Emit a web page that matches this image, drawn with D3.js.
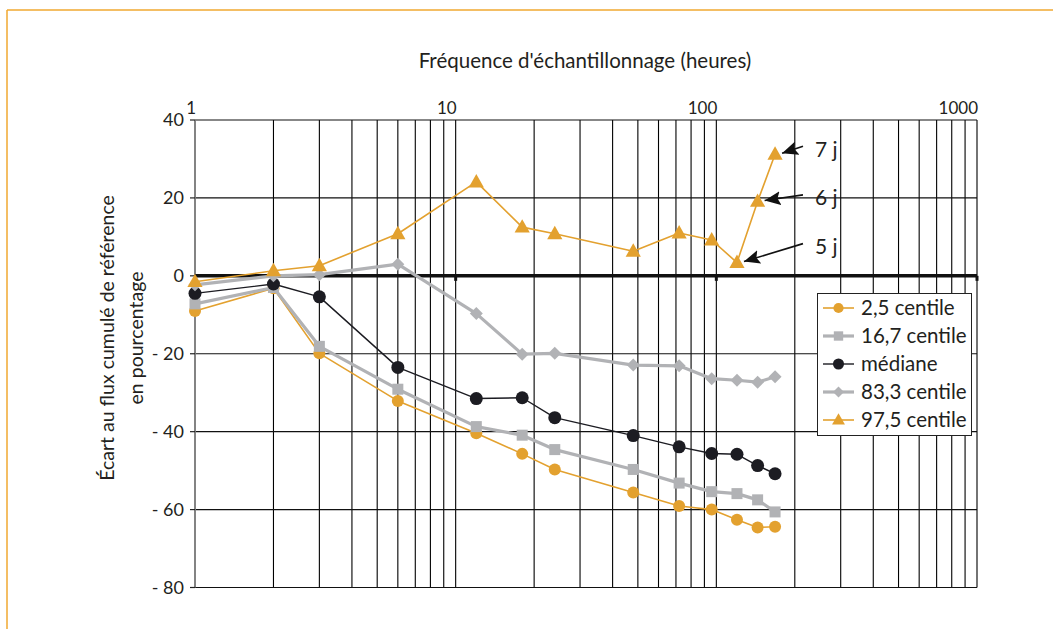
<!DOCTYPE html>
<html>
<head>
<meta charset="utf-8">
<script src="https://cdn.jsdelivr.net/npm/d3@7"></script>
<style>
  html, body { margin: 0; padding: 0; background: #fff; }
  svg { display: block; }
  text { font-family: Lato, "Open Sans", sans-serif; fill: #231f20; }
</style>
</head>
<body>
<svg id="chart" width="1053" height="629"></svg>
<script>
// ---- data ----
const hours = [1, 2, 3, 6, 12, 18, 24, 48, 72, 96, 120, 144, 168];
const c025 = [-9.0, -3.2, -19.9, -32.1, -40.4, -45.7, -49.7, -55.6, -59.1, -60.0, -62.6, -64.6, -64.4];
const c167 = [-7.2, -3.0, -18.1, -29.1, -38.7, -40.9, -44.6, -49.7, -53.2, -55.4, -55.9, -57.5, -60.6];
const median = [-4.5, -2.1, -5.4, -23.5, -31.5, -31.3, -36.4, -41.0, -43.9, -45.6, -45.8, -48.7, -50.8];
const c833 = [-2.3, 0.0, 0.3, 3.0, -9.7, -20.1, -19.9, -22.9, -23.1, -26.4, -26.8, -27.3, -25.9];
const c975 = [-1.5, 1.3, 2.6, 10.8, 24.1, 12.5, 10.8, 6.3, 11.0, 9.2, 3.4, 19.1, 31.2];
const seriesNames = ["2,5 centile", "16,7 centile", "médiane", "83,3 centile", "97,5 centile"];
const xTickLabels = [1, 10, 100, 1000];
const yTickValues = [40, 20, 0, -20, -40, -60, -80];
const annotLabels = ["5 j", "6 j", "7 j"];
const annotIndex = [10, 11, 12];
const annotLabelY = [7.5, 20, 32.5];
const xTitle = "Fréquence d'échantillonnage (heures)";
const yTitle = ["Écart au flux cumulé de référence", "en pourcentage"];

// ---- styles ----
const ORANGE = "#E3A12F", GRAY = "#B1B2B5", BLACK = "#1C1C22";
const styles = [
  {color: ORANGE, width: 1.6, marker: "circle", size: 6},
  {color: GRAY, width: 3.2, marker: "square", size: 5.5},
  {color: BLACK, width: 1.4, marker: "circle", size: 6.5},
  {color: GRAY, width: 3.2, marker: "diamond", size: 6.5},
  {color: ORANGE, width: 1.6, marker: "triangle", size: 8}
];
const seriesValues = [c025, c167, median, c833, c975];

const svg = d3.select("#chart");

// frame
svg.append("line").attr("x1", 7).attr("x2", 1053).attr("y1", 10).attr("y2", 10)
  .attr("stroke", "#F0A830").attr("stroke-width", 1.5);
svg.append("line").attr("x1", 7).attr("x2", 7).attr("y1", 10).attr("y2", 629)
  .attr("stroke", "#F0A830").attr("stroke-width", 1.5);

const x = d3.scaleLog().domain([1, 1000]).range([195, 977]);
const y = d3.scaleLinear().domain([-80, 40]).range([587.5, 120]);

const grid = svg.append("g");
// vertical grid (log minor ticks)
grid.selectAll("line.v").data(x.ticks()).join("line")
  .attr("class", "v")
  .attr("x1", d => x(d)).attr("x2", d => x(d))
  .attr("y1", y(40)).attr("y2", y(-80))
  .attr("stroke", "#000").attr("stroke-width", 1.1);
// horizontal grid
grid.selectAll("line.h").data(yTickValues.filter(v => v !== 0)).join("line")
  .attr("class", "h")
  .attr("x1", x(1)).attr("x2", x(1000))
  .attr("y1", d => y(d)).attr("y2", d => y(d))
  .attr("stroke", "#111").attr("stroke-width", 1.1);
// left axis line
grid.append("line").attr("x1", x(1)).attr("x2", x(1)).attr("y1", y(40)).attr("y2", y(-80))
  .attr("stroke", "#888").attr("stroke-width", 1.6);

// left axis ticks + labels
const yAxis = svg.append("g");
yAxis.selectAll("line").data(yTickValues).join("line")
  .attr("x1", x(1) - 5).attr("x2", x(1))
  .attr("y1", d => y(d)).attr("y2", d => y(d))
  .attr("stroke", "#222").attr("stroke-width", 1.2);
yAxis.selectAll("text").data(yTickValues).join("text")
  .attr("x", x(1) - 11).attr("y", d => y(d)).attr("dy", "0.36em")
  .attr("text-anchor", "end").attr("font-size", 18)
  .text(d => d < 0 ? "- " + Math.abs(d) : String(d));

// top axis labels
svg.append("g").selectAll("text").data(xTickLabels).join("text")
  .attr("x", d => x(d) + 1).attr("y", 114)
  .attr("text-anchor", "end").attr("font-size", 17)
  .text(d => d);

// zero line
svg.append("line").attr("x1", x(1)).attr("x2", x(1000)).attr("y1", y(0)).attr("y2", y(0))
  .attr("stroke", "#111").attr("stroke-width", 3.5);
svg.append("g").selectAll("line").data([10, 100, 1000]).join("line")
  .attr("x1", d => x(d)).attr("x2", d => x(d))
  .attr("y1", y(0)).attr("y2", y(0) + 5)
  .attr("stroke", "#111").attr("stroke-width", 3);

// titles
svg.append("text").attr("x", 585).attr("y", 68).attr("text-anchor", "middle")
  .attr("font-size", 20.5).text(xTitle);
const yt = svg.append("text").attr("transform", "translate(0,338) rotate(-90)")
  .attr("text-anchor", "middle").attr("font-size", 19.5);
yt.append("tspan").attr("x", 0).attr("y", 114).text(yTitle[0]);
yt.append("tspan").attr("x", 0).attr("y", 143).text(yTitle[1]);

// marker drawing
function drawMarker(g, st, cx, cy) {
  const s = st.size;
  if (st.marker === "circle") {
    g.append("circle").attr("cx", cx).attr("cy", cy).attr("r", s).attr("fill", st.color);
  } else if (st.marker === "square") {
    g.append("rect").attr("x", cx - s).attr("y", cy - s).attr("width", 2 * s).attr("height", 2 * s).attr("fill", st.color);
  } else if (st.marker === "diamond") {
    g.append("path").attr("d", `M${cx},${cy - s}L${cx + s},${cy}L${cx},${cy + s}L${cx - s},${cy}Z`).attr("fill", st.color);
  } else if (st.marker === "triangle") {
    g.append("path").attr("d", `M${cx},${cy - s}L${cx + s * 0.95},${cy + s * 0.68}L${cx - s * 0.95},${cy + s * 0.68}Z`).attr("fill", st.color);
  }
}

const line = d3.line().x(d => x(d[0])).y(d => y(d[1]));
seriesValues.forEach((vals, i) => {
  const st = styles[i];
  const pts = hours.map((h, j) => [h, vals[j]]);
  const g = svg.append("g");
  g.append("path").datum(pts).attr("d", line)
    .attr("fill", "none").attr("stroke", st.color).attr("stroke-width", st.width)
    .attr("stroke-linejoin", "round");
  pts.forEach(p => drawMarker(g, st, x(p[0]), y(p[1])));
});

// annotations
const defs = svg.append("defs");
defs.append("marker").attr("id", "ah").attr("markerUnits", "userSpaceOnUse")
  .attr("markerWidth", 18).attr("markerHeight", 14)
  .attr("refX", 16).attr("refY", 7).attr("orient", "auto")
  .append("path").attr("d", "M0,0L16,7L0,14L3,7Z").attr("fill", "#111");
const tailX = x(215);
annotLabels.forEach((lab, k) => {
  const idx = annotIndex[k];
  const px = x(hours[idx]) + 7, py = y(c975[idx]) - 1;
  const ly = y(annotLabelY[k]);
  svg.append("line").attr("x1", tailX).attr("y1", ly - 3).attr("x2", px).attr("y2", py)
    .attr("stroke", "#111").attr("stroke-width", 1.6).attr("marker-end", "url(#ah)");
  svg.append("text").attr("x", tailX + 12).attr("y", ly).attr("dy", "0.35em")
    .attr("font-size", 21).text(lab);
});

// legend
const lg = svg.append("g");
lg.append("rect").attr("x", 817.5).attr("y", 293.5).attr("width", 154).attr("height", 142)
  .attr("fill", "#fff").attr("stroke", "#222").attr("stroke-width", 1);
seriesNames.forEach((name, i) => {
  const st = styles[i];
  const cy = 308 + i * 28;
  const row = lg.append("g");
  row.append("line").attr("x1", 823).attr("x2", 854).attr("y1", cy).attr("y2", cy)
    .attr("stroke", st.color).attr("stroke-width", st.width);
  drawMarker(row, Object.assign({}, st, {size: st.size * 0.85}), 838.5, cy);
  row.append("text").attr("x", 861).attr("y", cy).attr("dy", "0.36em")
    .attr("font-size", 20.5).text(name);
});
</script>
</body>
</html>
